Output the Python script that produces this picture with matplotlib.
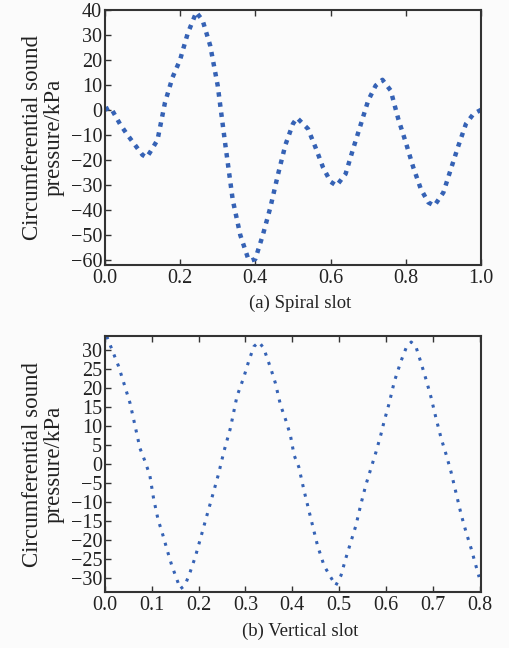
import matplotlib
matplotlib.use("Agg")
import matplotlib.pyplot as plt
import numpy as np

plt.rcParams['font.family'] = ['Liberation Serif', 'DejaVu Serif']
plt.rcParams['mathtext.fontset'] = 'stix'

# (a) Spiral slot
xa = [0.0, 0.013, 0.02, 0.04, 0.06, 0.08, 0.10, 0.111, 0.12, 0.14, 0.16, 0.18, 0.20, 0.22, 0.243,
      0.26, 0.28, 0.30, 0.32, 0.34, 0.36, 0.38, 0.387, 0.40, 0.42, 0.44, 0.46, 0.48, 0.50, 0.511,
      0.54, 0.56, 0.58, 0.60, 0.616, 0.64, 0.66, 0.68, 0.70, 0.72, 0.738, 0.76, 0.78, 0.80, 0.82,
      0.84, 0.86, 0.876, 0.90, 0.92, 0.94, 0.96, 0.98, 1.0]
ya = [0.0, 1.0, -0.3, -5.6, -10.0, -14.0, -18.0, -19.0, -17.0, -12.0, 3.0, 13.0, 20.0, 30.4, 39.0,
      35.7, 25.7, 9.7, -13.6, -36.0, -50.0, -59.0, -60.3, -59.6, -50.0, -39.0, -26.0, -14.0, -5.6, -3.2,
      -7.6, -15.0, -23.0, -28.7, -30.3, -25.6, -15.6, -6.0, 3.7, 9.7, 12.0, 7.7, -3.6, -13.0, -23.0,
      -31.6, -37.0, -38.3, -33.0, -23.6, -14.3, -5.6, -1.6, 0.0]

# (b) Vertical slot
xb = [0.004, 0.029, 0.039, 0.054, 0.064, 0.075, 0.086, 0.096, 0.104, 0.114, 0.121, 0.134, 0.143,
      0.152, 0.161, 0.171, 0.182, 0.193, 0.204, 0.218, 0.232, 0.243, 0.254, 0.268, 0.282, 0.296,
      0.307, 0.318, 0.329, 0.339, 0.354, 0.364, 0.375, 0.386, 0.396, 0.404, 0.414, 0.425, 0.439,
      0.454, 0.468, 0.482, 0.493, 0.504, 0.514, 0.525, 0.536, 0.546, 0.557, 0.568, 0.579, 0.589,
      0.596, 0.607, 0.618, 0.632, 0.643, 0.654, 0.664, 0.675, 0.686, 0.696, 0.707, 0.718, 0.729,
      0.739, 0.75, 0.761, 0.771, 0.782, 0.793, 0.799]
yb = [33.7, 25.9, 22.0, 16.0, 10.4, 4.2, 0.7, -2.9, -9.0, -14.8, -17.4, -23.0, -26.7,
      -29.7, -32.8, -31.9, -28.4, -24.4, -19.6, -13.4, -7.3, -2.4, 3.3, 9.5, 17.9, 22.7,
      27.1, 31.0, 32.2, 30.6, 25.3, 21.4, 15.6, 11.7, 7.7, 2.4, -0.7, -6.8, -13.9,
      -21.4, -26.7, -29.7, -31.9, -29.3, -24.9, -20.5, -16.1, -10.8, -5.5, -1.1, 3.3, 7.7,
      11.2, 16.1, 21.8, 27.1, 30.6, 32.2, 31.0, 26.7, 22.2, 17.8, 12.1, 6.8, 2.4,
      -2.0, -7.7, -13.4, -17.8, -22.2, -27.1, -29.7]

yticks_a = list(range(-60, 41, 10))
yticks_b = list(range(-30, 31, 5))
xticks_a = [0.0, 0.2, 0.4, 0.6, 0.8, 1.0]
xticks_b = [0.0, 0.1, 0.2, 0.3, 0.4, 0.5, 0.6, 0.7, 0.8]

color = '#3562b5'
ylabel = 'Circumferential sound\npressure/kPa'

fig = plt.figure(figsize=(5.09, 6.48), dpi=100)
fig.patch.set_facecolor('#fbfbfb')

ax1 = fig.add_axes([0.206, 0.591, 0.739, 0.394])
ax2 = fig.add_axes([0.206, 0.086, 0.739, 0.395])

ax1.plot(xa, ya, color=color, lw=3.2, linestyle=(0, (1.0, 1.3)))
ax2.plot(xb, yb, color=color, lw=2.2, linestyle=(0, (1.0, 2.2)))

ax1.set_xlim(0, 1.0)
ax1.set_ylim(-62, 40)
ax1.set_xticks(xticks_a)
ax1.set_xticklabels([f'{v:.1f}' for v in xticks_a])
ax1.set_yticks(yticks_a)
ax1.set_yticklabels([f'{v}'.replace('-', '\u2212') for v in yticks_a])

ax2.set_xlim(0, 0.803)
ax2.set_ylim(-33.7, 33.7)
ax2.set_xticks(xticks_b)
ax2.set_xticklabels([f'{v:.1f}' for v in xticks_b])
ax2.set_yticks(yticks_b)
ax2.set_yticklabels([f'{v}'.replace('-', '\u2212') for v in yticks_b])

for ax in (ax1, ax2):
    ax.set_facecolor('#fbfbfb')
    for s in ax.spines.values():
        s.set_linewidth(1.5)
        s.set_color('#333333')
    ax.tick_params(direction='in', length=4, width=1, labelsize=14.5, top=True, right=False,
                   colors='#333333', labelcolor='#222222', pad=3)
    ax.tick_params(axis='y', pad=2)
    ax.set_ylabel(ylabel, fontsize=16.5, color='#222222', labelpad=4, linespacing=1.05)

fig.text(0.59, 0.532, '(a) Spiral slot', ha='center', va='center', fontsize=13.5, color='#222222')
fig.text(0.59, 0.025, '(b) Vertical slot', ha='center', va='center', fontsize=13.5, color='#222222')

fig.savefig('out.png', dpi=100, facecolor=fig.get_facecolor())
